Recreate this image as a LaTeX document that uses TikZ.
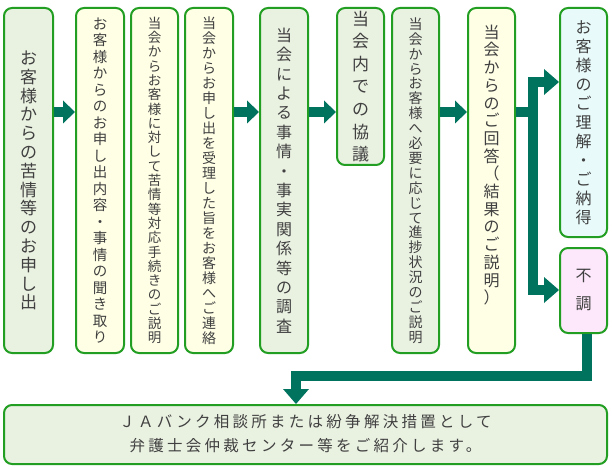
\documentclass[tikz,border=0pt]{standalone}
\usepackage{fontspec}
\setmainfont{Noto Sans CJK JP}
\newfontfamily\jpsp[LetterSpace=21]{Noto Sans CJK JP}
\usetikzlibrary{arrows.meta}
\definecolor{arrc}{RGB}{0,115,95}
\definecolor{bordc}{RGB}{34,158,34}
\definecolor{fgreen}{RGB}{233,241,225}
\definecolor{fyellow}{RGB}{255,255,230}
\definecolor{fcyan}{RGB}{232,250,250}
\definecolor{fpink}{RGB}{252,232,250}
\definecolor{txtc}{RGB}{64,64,64}
\makeatletter
\newcommand\vtext[3]{\vbox{\fontsize{#1}{#2}\selectfont\baselineskip=#2\relax\lineskiplimit=-100pt\lineskip=0pt\@tfor\vch:=#3\do{\hbox to #1{\hss\vch\hss}}}}
\makeatother
\begin{document}
\begin{tikzpicture}[x=1pt,y=-1pt,
  box/.style={draw=bordc,line width=2pt,rounded corners=8pt,inner sep=0pt,text=txtc},
  bar/.style={draw=arrc,line width=10pt},
  arr/.style={bar,-{Triangle[width=23pt,length=12pt,line width=0pt]}},
  arrb/.style={bar,-{Triangle[width=26pt,length=15pt,line width=0pt]}}]
\useasboundingbox (0,0) rectangle (612,470);
\node[box,fill=fgreen,minimum width=49pt,minimum height=345pt] (b1) at (28.5,180.5) {\vtext{17pt}{18.8pt}{お客様からの苦情等のお申し出}};
\node[box,fill=fyellow,minimum width=48pt,minimum height=345pt] (b2) at (100,180.5) {\vtext{14.5pt}{16.5pt}{お客様からのお申し出内容・事情の聞き取り}};
\node[box,fill=fyellow,minimum width=47pt,minimum height=345pt] (b3) at (154.5,180.5) {\vtext{13.5pt}{14.3pt}{当会からお客様に対して苦情等対応手続きのご説明}};
\node[box,fill=fyellow,minimum width=48pt,minimum height=345pt] (b4) at (209,180.5) {\vtext{14pt}{15pt}{当会からお申し出を受理した旨をお客様へご連絡}};
\node[box,fill=fgreen,minimum width=48pt,minimum height=345pt] (b5) at (284,180.5) {\vtext{16pt}{19.4pt}{当会による事情・事実関係等の調査}};
\node[box,fill=fgreen,minimum width=47pt,minimum height=157pt] (b6) at (360.5,86.5) {\vtext{17pt}{22.6pt}{当会内での協議}};
\node[box,fill=fgreen,minimum width=47pt,minimum height=345pt] (b7) at (415.5,180.5) {\vtext{14pt}{14.9pt}{当会からお客様へ必要に応じて進捗状況のご説明}};
\node[box,fill=fyellow,minimum width=47pt,minimum height=345pt] (b8) at (491.5,180.5) {\vbox{\vtext{16pt}{17.7pt}{当会からのご回答（結果のご説明）}\vskip31pt}};
\node[box,fill=fcyan,minimum width=47pt,minimum height=229pt] (b9) at (583.5,122.5) {\vtext{16pt}{19pt}{お客様のご理解・ご納得}};
\node[box,fill=fpink,minimum width=47pt,minimum height=85pt] (b10) at (583.5,290.5) {\vtext{16pt}{28pt}{不調}};
\node[box,fill=fgreen,minimum width=603pt,minimum height=59pt] (b11) at (305.5,434.5) {\fontsize{15.5pt}{24pt}\jpsp\begin{tabular}{@{}c@{}}ＪＡバンク相談所または紛争解決措置として\\弁護士会仲裁センター等をご紹介します。\end{tabular}\hspace{21pt}};
\coordinate (ay) at (0,112);
\draw[arr] (b1.east |- ay) -- (b2.west |- ay);
\draw[arr] (b4.east |- ay) -- (b5.west |- ay);
\draw[arr] (b5.east |- ay) -- (b6.west |- ay);
\draw[arr] (b7.east |- ay) -- (b8.west |- ay);
\coordinate (j) at (533,112);
\coordinate (jt) at (533,82);
\coordinate (jb) at (533,290);
\draw[bar] (b8.east |- j) -- (j);
\draw[arrb] (jb) -- (jt) -- (b9.west |- jt);
\draw[arrb] (jt) -- (jb) -- (b10.west |- jb);
\coordinate (k) at (296,376);
\draw[arrb] ([xshift=3pt]b10.south) |- (k) -- (k |- b11.north);
\end{tikzpicture}
\end{document}
